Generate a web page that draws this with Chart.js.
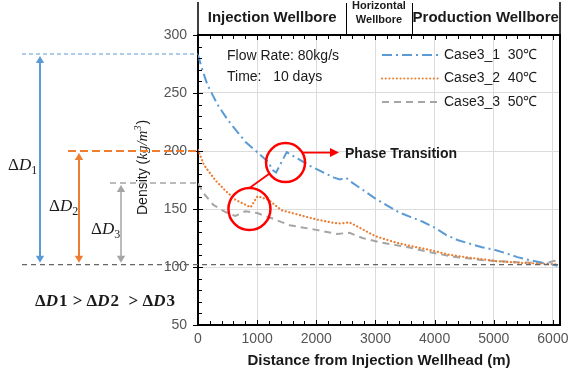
<!DOCTYPE html>
<html>
<head>
<meta charset="utf-8">
<script src="https://cdn.jsdelivr.net/npm/chart.js@4"></script>
<style>
  html, body { margin: 0; padding: 0; background: #fff; }
  #wrap { width: 569px; height: 374px; }
</style>
</head>
<body>
<div id="wrap"><canvas id="densityChart" width="569" height="374"></canvas></div>
<script>
// Case3_1 30°C
const distCase1 = [0, 60, 160, 330, 500, 800, 1000, 1200, 1250, 1320, 1500, 1700, 1900, 2100, 2300, 2400, 2500, 2600, 2800, 3000, 3200, 3400, 3600, 3800, 4000, 4200, 4400, 4600, 4800, 5000, 5200, 5400, 5600, 5800, 6000, 6080];
const densCase1 = [283, 272, 257, 240, 227, 208, 199, 190, 184, 181.5, 199, 193, 187, 182, 177, 175.5, 177, 173, 166, 159, 153, 147, 143, 139, 134, 127.5, 123, 120, 117, 115, 112, 108.5, 106, 104, 102, 101];
// Case3_2 40°C
const distCase2 = [0, 100, 290, 460, 630, 890, 1005, 1190, 1410, 1700, 2000, 2300, 2400, 2560, 2730, 3000, 3350, 3600, 3900, 4250, 4600, 5050, 5500, 6000, 6080];
const densCase2 = [201, 188, 175, 166, 158, 151.5, 161, 158, 149, 145, 141, 138, 137.5, 138.5, 134, 126.5, 121, 118, 115, 110.5, 108, 105, 103.5, 102.5, 102];
// Case3_3 50°C
const distCase3 = [0, 120, 260, 460, 630, 800, 1000, 1250, 1550, 2000, 2350, 2560, 2780, 3100, 3550, 3950, 4300, 4800, 5400, 5900, 6000, 6070];
const densCase3 = [172, 162, 153.5, 147.5, 144, 148, 146.5, 142, 136, 132, 128.5, 129.5, 125, 121, 117, 112.5, 109, 106, 104, 103.5, 105, 105.5];

const xTickValues = [0, 1000, 2000, 3000, 4000, 5000, 6000];
const seriesLabels = ['Case3_1  30\u2103', 'Case3_2  40\u2103', 'Case3_3  50\u2103'];
const sectionNames = ['Injection Wellbore', 'Horizontal|Wellbore', 'Production Wellbore'];
const sectionBounds = [0, 2510, 3610, 6120];

// reference levels for the ΔD annotations
const startLevels = [283.6, 200, 172.4];
const endLevel = 102;

const colors = ['#5B9BD5', '#ED7D31', '#A5A5A5'];
const dashes = [[10, 4, 2, 4], [0.1, 3.6], [7, 5]];

const toPoints = (xs, ys) => xs.map((x, i) => ({ x: x, y: ys[i] }));

function arrowHead(ctx, x, y, dir, size) {
    ctx.beginPath();
    ctx.moveTo(x, y);
    ctx.lineTo(x - size * 0.6, y - dir * size);
    ctx.lineTo(x + size * 0.6, y - dir * size);
    ctx.closePath();
    ctx.fill();
}

function deltaLabel(ctx, x, y, sub) {
    ctx.textBaseline = 'alphabetic';
    ctx.textAlign = 'left';
    ctx.font = '17px "Liberation Serif"';
    ctx.fillText('\u0394', x, y);
    let w = ctx.measureText('\u0394').width;
    ctx.font = 'italic 17px "Liberation Serif"';
    ctx.fillText('D', x + w, y);
    w += ctx.measureText('D').width;
    ctx.font = '12px "Liberation Serif"';
    ctx.fillText(sub, x + w, y + 4);
}

const decorPlugin = {
    id: 'decor',
    afterDraw(chart) {
        const ctx = chart.ctx;
        const area = chart.chartArea;
        const xs = chart.scales.x;
        const ys = chart.scales.y;
        ctx.save();

        // frame (top and right), header box
        ctx.strokeStyle = '#000';
        ctx.lineWidth = 2;
        ctx.beginPath();
        ctx.moveTo(area.left, area.top);
        ctx.lineTo(area.right, area.top);
        ctx.lineTo(area.right, area.bottom);
        ctx.stroke();
        ctx.lineWidth = 1.5;
        ctx.beginPath();
        ctx.moveTo(area.left, 2);
        ctx.lineTo(area.left, area.top);
        ctx.moveTo(area.right, 2);
        ctx.lineTo(area.right, area.top);
        ctx.stroke();
        ctx.lineWidth = 1;
        ctx.beginPath();
        [sectionBounds[1], sectionBounds[2]].forEach(v => {
            const px = Math.round(xs.getPixelForValue(v)) + 0.5;
            ctx.moveTo(px, 3);
            ctx.lineTo(px, area.top);
        });
        ctx.stroke();

        ctx.fillStyle = '#1a1a1a';
        ctx.textAlign = 'center';
        ctx.textBaseline = 'middle';
        sectionNames.forEach((name, i) => {
            const cx = (xs.getPixelForValue(sectionBounds[i]) + xs.getPixelForValue(sectionBounds[i + 1])) / 2;
            if (name.includes('|')) {
                const parts = name.split('|');
                ctx.font = 'bold 11px "Liberation Sans"';
                ctx.fillText(parts[0], cx, 6);
                ctx.fillText(parts[1], cx, 20);
            } else {
                ctx.font = 'bold 15px "Liberation Sans"';
                ctx.fillText(name, cx, 18);
            }
        });

        // minor and major ticks, inward
        ctx.strokeStyle = '#000';
        ctx.lineWidth = 1;
        ctx.beginPath();
        for (let v = 0; v <= 6100; v += 200) {
            const px = Math.round(xs.getPixelForValue(v)) + 0.5;
            const len = v % 1000 === 0 ? 5 : 4;
            ctx.moveTo(px, area.bottom);
            ctx.lineTo(px, area.bottom - len);
            ctx.moveTo(px, area.top);
            ctx.lineTo(px, area.top + len);
        }
        for (let v = 50; v <= 300; v += 10) {
            const py = Math.round(ys.getPixelForValue(v)) + 0.5;
            const len = v % 50 === 0 ? 5 : 4;
            ctx.moveTo(area.left, py);
            ctx.lineTo(area.left + len, py);
            if (v % 50 === 0) {
                ctx.moveTo(area.left, py);
                ctx.lineTo(area.left - 5, py);
            }
        }
        ctx.stroke();

        // y axis title
        ctx.save();
        ctx.translate(143, 160);
        ctx.rotate(-Math.PI / 2);
        ctx.fillStyle = '#1a1a1a';
        ctx.textAlign = 'left';
        ctx.textBaseline = 'middle';
        let tx = -55;
        ctx.font = '14px "Liberation Sans"';
        ctx.fillText('Density (', tx, 0);
        tx += ctx.measureText('Density (').width;
        ctx.font = 'italic 15px "Liberation Serif"';
        ctx.fillText('kg/m', tx, 0);
        tx += ctx.measureText('kg/m').width;
        ctx.font = 'italic 10px "Liberation Serif"';
        ctx.fillText('3', tx, -5);
        tx += ctx.measureText('3').width + 1;
        ctx.font = '14px "Liberation Sans"';
        ctx.fillText(')', tx, 0);
        ctx.restore();

        // legend
        ctx.textAlign = 'left';
        ctx.textBaseline = 'middle';
        seriesLabels.forEach((lab, i) => {
            const ly = 55 + i * 23.5;
            ctx.strokeStyle = colors[i];
            ctx.lineWidth = 2;
            ctx.lineCap = i === 1 ? 'round' : 'butt';
            ctx.setLineDash(dashes[i]);
            ctx.beginPath();
            ctx.moveTo(382, ly);
            ctx.lineTo(438, ly);
            ctx.stroke();
            ctx.setLineDash([]);
            ctx.fillStyle = '#1a1a1a';
            ctx.font = '14px "Liberation Sans"';
            ctx.fillText(lab, 444, ly);
        });
        ctx.lineCap = 'butt';

        // condition text
        ctx.font = '14px "Liberation Sans"';
        ctx.fillText('Flow Rate: 80kg/s', 227, 56);
        ctx.fillText('Time:   10 days', 227, 77);

        // reference dashed lines
        const yStart = startLevels.map(v => ys.getPixelForValue(v));
        const yEnd = ys.getPixelForValue(endLevel);
        const dashStarts = [22, 68, 110];
        const dashStyles = [[4, 3], [8, 4], [6, 4]];
        const dashWidths = [1.2, 2, 1.5];
        yStart.forEach((py, i) => {
            ctx.strokeStyle = colors[i];
            ctx.lineWidth = dashWidths[i];
            ctx.setLineDash(dashStyles[i]);
            ctx.beginPath();
            ctx.moveTo(dashStarts[i], py);
            ctx.lineTo(area.left, py);
            ctx.stroke();
        });
        ctx.strokeStyle = '#666';
        ctx.lineWidth = 1.2;
        ctx.setLineDash([5, 4]);
        ctx.beginPath();
        ctx.moveTo(22, yEnd);
        ctx.lineTo(area.right, yEnd);
        ctx.stroke();
        ctx.setLineDash([]);

        // double arrows
        const arrowX = [40, 79, 121];
        const arrowW = [2, 2, 1.5];
        yStart.forEach((py, i) => {
            ctx.strokeStyle = colors[i];
            ctx.fillStyle = colors[i];
            ctx.lineWidth = arrowW[i];
            ctx.beginPath();
            ctx.moveTo(arrowX[i], py + 6);
            ctx.lineTo(arrowX[i], yEnd - 6);
            ctx.stroke();
            arrowHead(ctx, arrowX[i], py + 2, -1, 7);
            arrowHead(ctx, arrowX[i], yEnd - 2, 1, 7);
        });

        ctx.fillStyle = '#1a1a1a';
        deltaLabel(ctx, 8, 170, '1');
        deltaLabel(ctx, 49, 211, '2');
        deltaLabel(ctx, 91, 234, '3');

        // ΔD1 > ΔD2 > ΔD3
        let bx = 35;
        const by = 306;
        ['1', ' > ', '2', '  > ', '3'].forEach((seg, i) => {
            if (i % 2 === 0) {
                ctx.font = 'bold 17px "Liberation Serif"';
                ctx.fillText('\u0394', bx, by);
                bx += ctx.measureText('\u0394').width;
                ctx.font = 'bold italic 17px "Liberation Serif"';
                ctx.fillText('D', bx, by);
                bx += ctx.measureText('D').width + 1;
                ctx.font = 'bold 17px "Liberation Serif"';
                ctx.fillText(seg, bx, by);
                bx += ctx.measureText(seg).width;
            } else {
                ctx.font = 'bold 17px "Liberation Serif"';
                ctx.fillText(seg, bx + 1, by);
                bx += ctx.measureText(seg).width + 1;
            }
        });

        // phase transition marks
        const c1 = { x: xs.getPixelForValue(1480), y: ys.getPixelForValue(190), r: 19.5 };
        const c2 = { x: xs.getPixelForValue(870), y: ys.getPixelForValue(150), r: 21 };
        ctx.strokeStyle = '#FF0000';
        ctx.fillStyle = '#FF0000';
        ctx.lineWidth = 2.5;
        [c1, c2].forEach(c => {
            ctx.beginPath();
            ctx.arc(c.x, c.y, c.r, 0, Math.PI * 2);
            ctx.stroke();
        });
        ctx.lineWidth = 1.8;
        ctx.beginPath();
        ctx.moveTo(c2.x, c2.y - c2.r);
        ctx.lineTo(c1.x - c1.r * 0.8, c1.y + c1.r * 0.55);
        ctx.stroke();
        const ay = c1.y - 10;
        ctx.beginPath();
        ctx.moveTo(c1.x + c1.r - 2, ay);
        ctx.lineTo(331, ay);
        ctx.stroke();
        ctx.beginPath();
        ctx.moveTo(339, ay);
        ctx.lineTo(330, ay - 4.5);
        ctx.lineTo(330, ay + 4.5);
        ctx.closePath();
        ctx.fill();
        ctx.fillStyle = '#1a1a1a';
        ctx.font = 'bold 14px "Liberation Sans"';
        ctx.textBaseline = 'middle';
        ctx.fillText('Phase Transition', 345, ay + 2);

        ctx.restore();
    }
};

const ctx = document.getElementById('densityChart').getContext('2d');
new Chart(ctx, {
    type: 'line',
    data: {
        datasets: [
            { label: seriesLabels[0], data: toPoints(distCase1, densCase1), borderColor: colors[0], borderDash: dashes[0], borderWidth: 2 },
            { label: seriesLabels[1], data: toPoints(distCase2, densCase2), borderColor: colors[1], borderDash: dashes[1], borderWidth: 2.2, borderCapStyle: 'round' },
            { label: seriesLabels[2], data: toPoints(distCase3, densCase3), borderColor: colors[2], borderDash: dashes[2], borderWidth: 2 }
        ]
    },
    options: {
        responsive: false,
        animation: false,
        events: [],
        elements: { point: { radius: 0 }, line: { tension: 0, fill: false } },
        layout: { padding: { left: 138, top: 35, right: 9, bottom: 0 } },
        plugins: { legend: { display: false }, tooltip: { enabled: false } },
        scales: {
            x: {
                type: 'linear',
                min: 0,
                max: 6120,
                afterBuildTicks: (scale) => { scale.ticks = xTickValues.map(v => ({ value: v })); },
                afterFit: (scale) => { scale.height = 49; scale.paddingLeft = 0; scale.paddingRight = 0; },
                ticks: {
                    autoSkip: false,
                    color: '#555',
                    font: { family: 'Liberation Sans', size: 14 },
                    padding: 6,
                    maxRotation: 0,
                    callback: (v) => String(v)
                },
                grid: { color: '#dcdcdc', lineWidth: 1, drawTicks: false },
                border: { color: '#000', width: 2 },
                title: {
                    display: true,
                    text: 'Distance from Injection Wellhead (m)',
                    color: '#1a1a1a',
                    font: { family: 'Liberation Sans', size: 15, weight: 'bold' },
                    padding: { top: 2 }
                }
            },
            y: {
                min: 50,
                max: 300,
                afterFit: (scale) => { scale.width = 60; },
                ticks: { stepSize: 50, color: '#555', font: { family: 'Liberation Sans', size: 14 }, padding: 11 },
                grid: { color: '#dcdcdc', lineWidth: 1, drawTicks: false },
                border: { color: '#000', width: 2 }
            }
        }
    },
    plugins: [decorPlugin]
});
</script>
</body>
</html>
